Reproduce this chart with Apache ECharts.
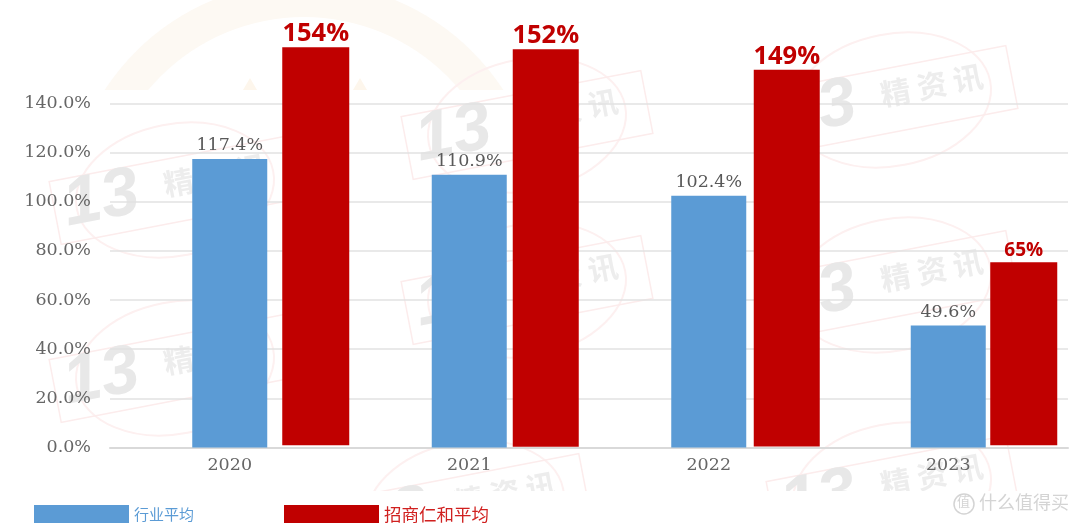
<!DOCTYPE html>
<html><head><meta charset="utf-8">
<style>html,body{margin:0;padding:0;background:#fff}#c{width:1080px;height:526px}</style>
<script src="https://cdn.jsdelivr.net/npm/echarts@6/dist/echarts.min.js"></script>
</head><body><div id="c"></div>
<script>
const categories = ['2020','2021','2022','2023'];
const yTicks = [0,20,40,60,80,100,120,140];
const industryName = '行业平均';
const industryValues = [117.4,110.9,102.4,49.6];
const cmName = '招商仁和平均';
// The red bars are pasted over the chart: their printed labels differ from their drawn height.
const cmLabels = [154,152,149,65];
const cmDrawnTop = [162.8,162,153.6,75.4];
const cmDrawnBase = [1,0.3,0.4,1];

const BLUE='#5b9bd5', RED='#c00000';
const cmShift=[86,76.5,78,75.5], cmWidth=[67,66,66,67];
const stamps=[[175,190],[527,125],[892,100],[527,290],[892,285],[175,368],[465,508],[892,490]];
const wm=[];
wm.push({type:'sector',silent:true,z:0,shape:{cx:304,cy:220,r:238,r0:203},style:{fill:'#fdf9f3'}});
wm.push({type:'rect',silent:true,z:0,shape:{x:50,y:90,width:510,height:400},style:{fill:'#fff'}});
[250,360].forEach(x=>wm.push({type:'polygon',silent:true,z:0,shape:{points:[[x-7,90],[x,78],[x+7,90]]},style:{fill:'#fdf6ec'}}));
stamps.forEach(([x,y])=>{
  wm.push({type:'group',x,y,rotation:0.19,silent:true,z:0,children:[
    {type:'ellipse',shape:{cx:0,cy:0,rx:100,ry:66},style:{fill:null,stroke:'#fdf0f0',lineWidth:2}},
    {type:'rect',shape:{x:-122,y:-32,width:244,height:64},style:{fill:null,stroke:'#fcecec',lineWidth:1.5}},
    {type:'text',x:-112,y:-38,style:{text:'13',font:'italic bold 68px "Liberation Sans"',fill:'#e8e8e8'}},
    {type:'text',x:-10,y:-22,style:{text:'精 资 讯',font:'bold 30px "Noto Sans CJK SC"',fill:'#ededed'}}
  ]});
});
wm.push({type:'rect',silent:true,z:0,shape:{x:0,y:491,width:1080,height:35},style:{fill:'#fff'}});
wm.push({type:'text',left:979,top:493,silent:true,z:1,style:{text:'什么值得买',font:'18px "Noto Sans CJK SC"',fill:'#d4d4d4'}});
wm.push({type:'circle',silent:true,z:1,shape:{cx:964,cy:504,r:10},style:{fill:null,stroke:'#d4d4d4',lineWidth:1.5}});
wm.push({type:'text',left:957,top:495,silent:true,z:1,style:{text:'值',font:'13px "Noto Sans CJK SC"',fill:'#d4d4d4'}});

const chart=echarts.init(document.getElementById('c'),null,{renderer:'canvas'});
chart.setOption({
  animation:false,
  backgroundColor:'#fff',
  graphic:wm,
  grid:{left:110,right:12,top:103.3,bottom:78.4},
  legend:{
    left:34,top:505,padding:0,itemWidth:95,itemHeight:18,itemGap:90,icon:'rect',
    data:[
      {name:industryName,textStyle:{color:BLUE,fontSize:15,fontFamily:'"Noto Sans CJK SC"'}},
      {name:cmName,textStyle:{color:'#d0201f',fontSize:17.5,fontFamily:'"Noto Sans CJK SC"'}}
    ]
  },
  xAxis:{type:'category',data:categories,
    axisTick:{show:false},
    axisLine:{lineStyle:{color:'#d9d9d9',width:2}},
    axisLabel:{color:'#666',fontSize:17.5,fontFamily:'"DejaVu Serif"',margin:9}},
  yAxis:{type:'value',min:yTicks[0],max:yTicks[yTicks.length-1],interval:20,
    axisLine:{show:false},axisTick:{show:false},
    splitLine:{lineStyle:{color:'#e2e2e2',width:1.5}},
    axisLabel:{color:'#666',fontSize:17.5,fontFamily:'"DejaVu Serif"',margin:19,
      formatter:v=>v.toFixed(1)+'%'}},
  series:[
    {name:industryName,type:'bar',data:industryValues,barWidth:75,z:3,
      itemStyle:{color:BLUE},
      label:{show:true,position:'top',distance:4,color:'#595959',fontSize:17.5,fontFamily:'"DejaVu Serif"',formatter:p=>p.value.toFixed(1)+'%'}},
    {name:cmName,type:'custom',z:4,clip:false,
      itemStyle:{color:RED},
      encode:{x:0,y:1},
      data:categories.map((c,i)=>[i,cmDrawnTop[i],cmDrawnBase[i],cmLabels[i]]),
      renderItem:(params,api)=>{
        const i=api.value(0);
        const top=api.coord([i,api.value(1)]);
        const base=api.coord([i,api.value(2)]);
        const w=cmWidth[i], cx=top[0]+cmShift[i];
        return {type:'group',children:[
          {type:'rect',shape:{x:cx-w/2,y:top[1],width:w,height:base[1]-top[1]},style:{fill:RED}},
          {type:'text',x:cx,y:top[1]-(i===3?2:0),style:{text:api.value(3)+'%',align:'center',verticalAlign:'bottom',
            font:(i===3?'bold 19px':'bold 25.5px')+' "Open Sans"',fill:RED}}
        ]};
      }}
  ]
});
</script></body></html>
